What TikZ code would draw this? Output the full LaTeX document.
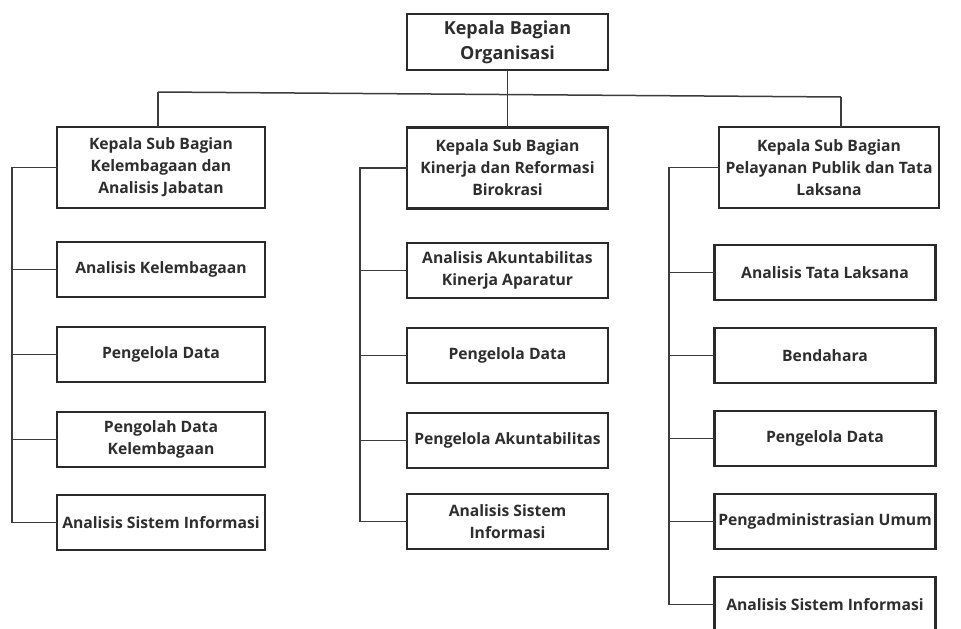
\documentclass[tikz,border=0pt]{standalone}
\usepackage{fontspec}
\setmainfont{Open Sans}
\usetikzlibrary{positioning,calc}
\definecolor{boxline}{HTML}{2A2A2A}
\definecolor{linkgray}{HTML}{3C3C3C}
\definecolor{textgray}{HTML}{2E2E2E}
\tikzset{
  every picture/.append style={line width=0.6pt},
  every node/.append style={font=\bfseries},
}
\tikzset{
  orgbox/.style={draw=boxline, line width=2.6pt, align=center, text=textgray, inner sep=1pt, outer sep=0pt},
  link/.style={draw=linkgray, line width=1.5pt}
}

\begin{document}
\begin{tikzpicture}[
  x=1pt, y=-1pt,
  node distance=30pt,
  chief/.style={orgbox, minimum width=201pt, minimum height=56pt, font=\bfseries\fontsize{18}{25}\selectfont},
  head/.style={orgbox, minimum height=81pt, font=\bfseries\fontsize{15.7}{22}\selectfont},
  unit/.style={orgbox, minimum height=55pt, font=\bfseries\fontsize{15.7}{22}\selectfont}
]
\useasboundingbox[fill=white] (0,0) rectangle (961,629);

% Top: Kepala Bagian
\node[chief] (kabag) at (507.5,42) {Kepala Bagian\\Organisasi};

% Row 1: Kepala Sub Bagian
\node[head, minimum width=208pt] (subA) at (161,167.5) {Kepala Sub Bagian\\Kelembagaan dan\\Analisis Jabatan};
\node[head, minimum width=201pt] (subB) at (507.5,168) {Kepala Sub Bagian\\Kinerja dan Reformasi\\Birokrasi};
\node[head, minimum width=220pt] (subC) at (829,167.5) {Kepala Sub Bagian\\Pelayanan Publik dan Tata\\Laksana};

% Column A
\node[unit, minimum width=208pt] (a1) at (161,269.5) {Analisis Kelembagaan};
\node[unit, minimum width=208pt, below=of a1] (a2) {Pengelola Data};
\node[unit, minimum width=208pt, below=of a2] (a3) {Pengolah Data\\Kelembagaan};
\node[unit, minimum width=208pt, below=28pt of a3] (a4) {Analisis Sistem Informasi};

% Column B
\node[unit, minimum width=201pt] (b1) at (507.5,270.5) {Analisis Akuntabilitas\\Kinerja Aparatur};
\node[unit, minimum width=201pt, below=of b1] (b2) {Pengelola Data};
\node[unit, minimum width=201pt, below=of b2] (b3) {Pengelola Akuntabilitas};
\node[unit, minimum width=201pt, below=26pt of b3] (b4) {Analisis Sistem\\Informasi};

% Column C
\node[unit, minimum width=221pt] (c1) at (825,272.5) {Analisis Tata Laksana};
\node[unit, minimum width=221pt, below=28pt of c1] (c2) {Bendahara};
\node[unit, minimum width=221pt, below=28pt of c2] (c3) {Pengelola Data};
\node[unit, minimum width=221pt, below=28pt of c3] (c4) {Pengadministrasian Umum};
\node[unit, minimum width=221pt, below=28pt of c4] (c5) {Analisis Sistem Informasi};

% Bus from Kepala Bagian
\coordinate (busL) at (158,92);
\coordinate (busR) at (841,97);
\draw[link] (busL) -- (busR);
\draw[link] (kabag) -- (subB);
\draw[link] (busL) -- (busL |- subA.north);
\draw[link] (busR) -- (busR |- subC.north);

% Spines
\coordinate (spA) at (12,0);
\coordinate (spB) at (360,0);
\coordinate (spC) at (669,0);
\draw[link] (subA.west) -| (spA |- a4.west) -- (a4.west);
\draw[link] (subB.west) -| (spB |- b4.west) -- (b4.west);
\draw[link] (subC.west) -| (spC |- c5.west) -- (c5.west);
\foreach \n in {a1,a2,a3} \draw[link] (spA |- \n.west) -- (\n.west);
\foreach \n in {b1,b2,b3} \draw[link] (spB |- \n.west) -- (\n.west);
\foreach \n in {c1,c2,c3,c4} \draw[link] (spC |- \n.west) -- (\n.west);

\end{tikzpicture}
\end{document}
